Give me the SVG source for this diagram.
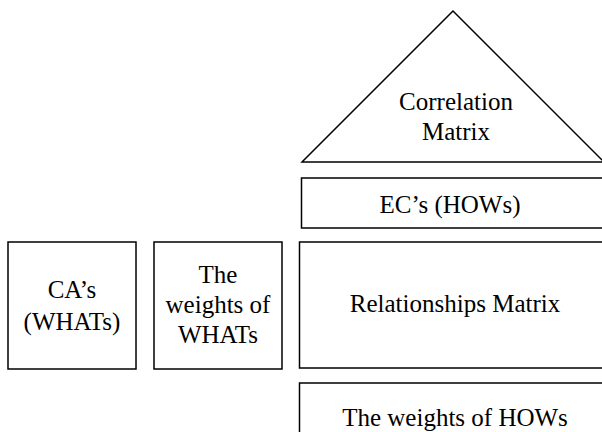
<svg xmlns="http://www.w3.org/2000/svg" width="602" height="432" viewBox="0 0 602 432">
<style>
.s{fill:#fff;stroke:#000;stroke-width:1.5}
.t{font-family:"Liberation Serif","Times New Roman",serif;font-size:25px;fill:#000;text-anchor:middle}
</style>
<rect width="602" height="432" fill="#fff"/>
<g id="correlation">
<polygon class="s" points="453,11 302,162 604,162"/>
<text class="t" x="456" y="110">Correlation</text>
<text class="t" x="456" y="140">Matrix</text>
</g>
<g id="ecs">
<rect class="s" x="301.5" y="178" width="302" height="50"/>
<text class="t" x="450" y="213">EC’s (HOWs)</text>
</g>
<g id="cas">
<rect class="s" x="8" y="242" width="128" height="127"/>
<text class="t" x="72" y="298">CA’s</text>
<text class="t" x="72" y="330">(WHATs)</text>
</g>
<g id="weights-whats">
<rect class="s" x="154" y="242" width="128" height="127"/>
<text class="t" x="218" y="283">The</text>
<text class="t" x="218" y="313">weights of</text>
<text class="t" x="218" y="343">WHATs</text>
</g>
<g id="relationships">
<rect class="s" x="299.5" y="242" width="304" height="126"/>
<text class="t" x="455" y="312">Relationships Matrix</text>
</g>
<g id="weights-hows">
<rect class="s" x="299.5" y="383" width="304" height="60"/>
<text class="t" x="455" y="426">The weights of HOWs</text>
</g>
<g id="connectors"/>
</svg>
